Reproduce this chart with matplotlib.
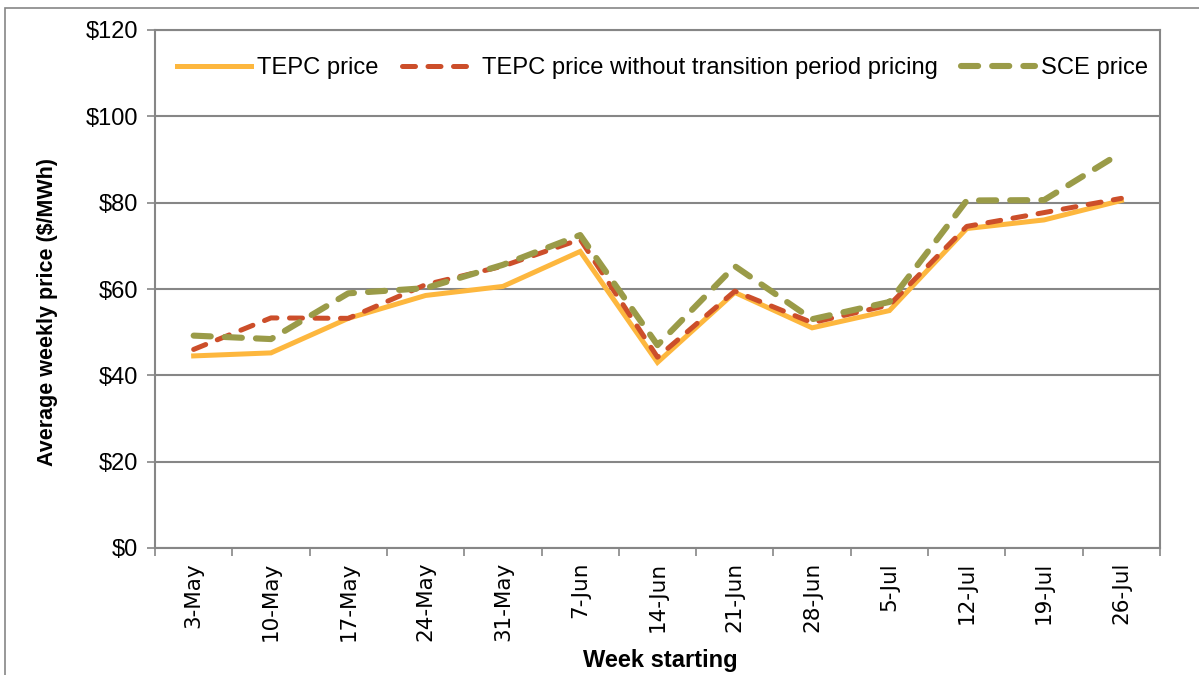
import numpy as np
import matplotlib
matplotlib.use("Agg")
import matplotlib.pyplot as plt
from matplotlib.patches import Rectangle

weeks = ["3-May", "10-May", "17-May", "24-May", "31-May", "7-Jun", "14-Jun",
         "21-Jun", "28-Jun", "5-Jul", "12-Jul", "19-Jul", "26-Jul"]
tepc = [44.5, 45.2, 53.2, 58.5, 60.6, 68.7, 43.0, 59.2, 51.0, 55.0, 74.0, 76.0, 80.5]
tepc_no_tp = [46.0, 53.3, 53.2, 61.0, 65.3, 71.5, 44.2, 59.5, 52.2, 56.3, 74.5, 77.7, 81.0]
sce = [49.2, 48.4, 59.0, 60.2, 65.6, 72.5, 47.0, 65.3, 53.0, 57.0, 80.5, 80.6, 91.6]

yticks = [0, 20, 40, 60, 80, 100, 120]
ytick_labels = ["$" + str(v) for v in yticks]

plt.rcParams['font.family'] = ['Liberation Sans', 'DejaVu Sans']

fig = plt.figure(figsize=(11.99, 6.75), dpi=100)
ax = fig.add_axes([155/1199, 1 - 548/675, (1160-155)/1199, (548-30)/675])

x = np.arange(len(weeks))
ax.plot(x, tepc, color='#FDB73E', lw=3.6, solid_joinstyle='miter', label='TEPC price', zorder=3)
ax.plot(x, tepc_no_tp, color='#CC4E2A', lw=3.6, linestyle=(0, (2.6, 2.5)),
        dash_capstyle='round', label='TEPC price without transition period pricing', zorder=4)
ax.plot(x, sce, color='#9A9B48', lw=4.4, linestyle=(0, (2.8, 2.3)),
        dash_capstyle='round', label='SCE price', zorder=5)

ax.set_xlim(-0.5, len(weeks) - 0.5)
ax.set_ylim(0, 120)
ax.set_yticks(yticks)
ax.set_yticklabels(ytick_labels, fontsize=17)
ax.set_xticks(x)
ax.set_xticklabels(weeks, rotation=90, fontsize=15.5, family=['DejaVu Sans'])
ax.tick_params(axis='x', which='major', length=0, pad=10)
ax.set_xticks(np.arange(-0.5, len(weeks)), minor=True)
ax.tick_params(axis='x', which='minor', length=6, color='#868686', width=1.2)
ax.tick_params(axis='y', length=6, color='#868686', width=1.2, pad=6)

ax.yaxis.grid(True, color='#868686', lw=1.5)
ax.set_axisbelow(True)
for s in ax.spines.values():
    s.set_color('#868686')
    s.set_linewidth(1.5)

ax.set_ylabel('Average weekly price ($/MWh)', fontsize=15.5, fontweight='bold')
ax.yaxis.set_label_coords(-0.097, 0.456)
ax.set_xlabel('Week starting', fontsize=17, fontweight='bold')
ax.xaxis.set_label_coords(0.5025, -0.195)

ax.legend(loc='center', bbox_to_anchor=(0.505, 0.926), ncol=3, frameon=False,
          fontsize=17.1, handlelength=3.1, columnspacing=1.0, handletextpad=0.25)

# outer chart border
fig.patches.append(Rectangle((5/1199, -0.01), 1.0, 1 - 8/675 + 0.01, transform=fig.transFigure,
                             fill=False, edgecolor='#868686', lw=1.2))

fig.savefig('out.png', dpi=100)
